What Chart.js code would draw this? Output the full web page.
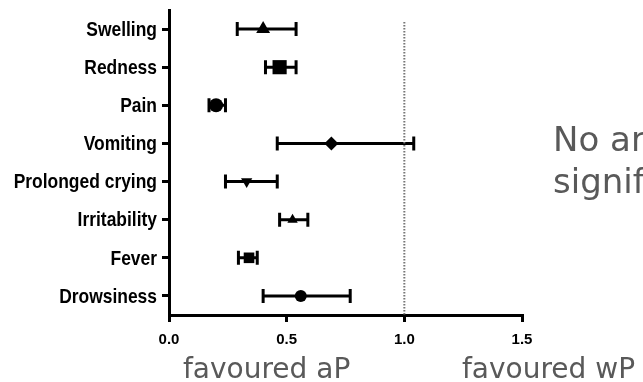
<!DOCTYPE html>
<html lang="en">
<head>
  <meta charset="UTF-8" />
  <title>Forest plot - aP vs wP</title>
  <script src="https://cdn.jsdelivr.net/npm/chart.js"></script>
  <style>
    body {
      margin: 0;
      background: #fff;
    }
    #wrap {
      width: 643px;
      height: 382px;
    }
  </style>
</head>
<body>
  <div id="wrap">
    <canvas id="chart" width="643" height="382"></canvas>
  </div>

  <script>
    // values
    const categories = ['Swelling', 'Redness', 'Pain', 'Vomiting', 'Prolonged crying', 'Irritability', 'Fever', 'Drowsiness'];
    const estimates = [0.40, 0.47, 0.20, 0.69, 0.33, 0.525, 0.34, 0.56];
    const lower = [0.29, 0.41, 0.17, 0.46, 0.24, 0.47, 0.295, 0.40];
    const upper = [0.54, 0.54, 0.24, 1.04, 0.46, 0.59, 0.375, 0.77];
    const xTicks = [0, 0.5, 1.0, 1.5];
    const refLine = 1.0;

    const narrow = "'Liberation Sans', Arial, sans-serif";
    const noteFont = "'DejaVu Sans', Verdana, sans-serif";

    // whiskers with end caps, drawn under the markers
    const whiskers = {
      id: 'whiskers',
      beforeDatasetsDraw(chart) {
        const { ctx, scales: { x, y } } = chart;
        ctx.save();
        ctx.strokeStyle = '#000';
        ctx.lineWidth = 3;
        categories.forEach((c, i) => {
          const py = y.getPixelForValue(i);
          const x1 = x.getPixelForValue(lower[i]);
          const x2 = x.getPixelForValue(upper[i]);
          ctx.beginPath();
          ctx.moveTo(x1, py); ctx.lineTo(x2, py);
          ctx.moveTo(x1, py - 7); ctx.lineTo(x1, py + 7);
          ctx.moveTo(x2, py - 7); ctx.lineTo(x2, py + 7);
          ctx.stroke();
        });
        // dotted line of no effect
        const rx = x.getPixelForValue(refLine);
        ctx.strokeStyle = '#777';
        ctx.lineWidth = 2;
        ctx.setLineDash([1.5, 1.5]);
        ctx.beginPath();
        ctx.moveTo(rx, chart.chartArea.top + 12);
        ctx.lineTo(rx, chart.chartArea.bottom);
        ctx.stroke();
        ctx.restore();
      }
    };

    // condensed bold category labels, placed by the y scale
    const yLabels = {
      id: 'yLabels',
      afterDraw(chart) {
        const { ctx, scales: { y } } = chart;
        categories.forEach((c, i) => {
          ctx.save();
          ctx.translate(y.right - 12, y.getPixelForValue(i) + 1);
          ctx.scale(0.83, 1);
          ctx.fillStyle = '#000';
          ctx.font = 'bold 21px ' + narrow;
          ctx.textAlign = 'right';
          ctx.textBaseline = 'middle';
          ctx.fillText(c, 0, 0);
          ctx.restore();
        });
      }
    };

    // grey notes round the plot
    const notes = {
      id: 'notes',
      afterDraw(chart) {
        const { ctx } = chart;
        ctx.save();
        ctx.fillStyle = '#595959';
        ctx.textBaseline = 'alphabetic';
        ctx.font = '28px ' + noteFont;
        ctx.fillText('favoured aP', 183, 378);
        ctx.fillText('favoured wP', 462, 378);
        ctx.font = '34px ' + noteFont;
        ctx.fillText('No any', 553, 151);
        ctx.fillText('significant', 553, 193);
        ctx.restore();
      }
    };

    const sizes = [8, 10, 7, 7, 6.5, 6, 7.5, 6];

    const chart = new Chart(document.getElementById('chart'), {
      type: 'scatter',
      data: {
        datasets: [{
          data: categories.map((c, i) => ({ x: estimates[i], y: c })),
          backgroundColor: '#000',
          borderColor: '#000',
          borderWidth: 0,
          pointStyle: ['triangle', 'rect', 'circle', 'rectRot', 'triangle', 'triangle', 'rect', 'circle'],
          pointRotation: [0, 0, 0, 0, 180, 0, 0, 0],
          pointRadius: sizes,
          pointHoverRadius: sizes
        }]
      },
      options: {
        responsive: false,
        animation: false,
        layout: { padding: { top: 10, right: 121, left: 0, bottom: 0 } },
        plugins: {
          legend: { display: false },
          tooltip: { enabled: false }
        },
        scales: {
          x: {
            type: 'linear',
            min: 0,
            max: 1.5,
            afterBuildTicks: s => { s.ticks = xTicks.map(v => ({ value: v })); },
            afterFit: s => { s.height = 67; s.paddingLeft = 0; s.paddingRight = 0; },
            border: { display: true, color: '#000', width: 3 },
            grid: { drawOnChartArea: false, drawTicks: true, tickLength: 7, lineWidth: 3, color: '#000' },
            ticks: {
              color: '#000',
              padding: 9,
              font: { family: narrow, size: 15, weight: 'bold' },
              callback: v => Number(v).toFixed(1)
            }
          },
          y: {
            type: 'category',
            labels: categories,
            offset: true,
            afterFit: s => { s.width = 169; s.paddingTop = 0; s.paddingBottom = 0; },
            border: { display: true, color: '#000', width: 3 },
            grid: { drawOnChartArea: false, drawTicks: true, tickLength: 7, lineWidth: 3, color: '#000', offset: false },
            ticks: { display: false }
          }
        }
      },
      plugins: [whiskers, yLabels, notes]
    });
  </script>
</body>
</html>
